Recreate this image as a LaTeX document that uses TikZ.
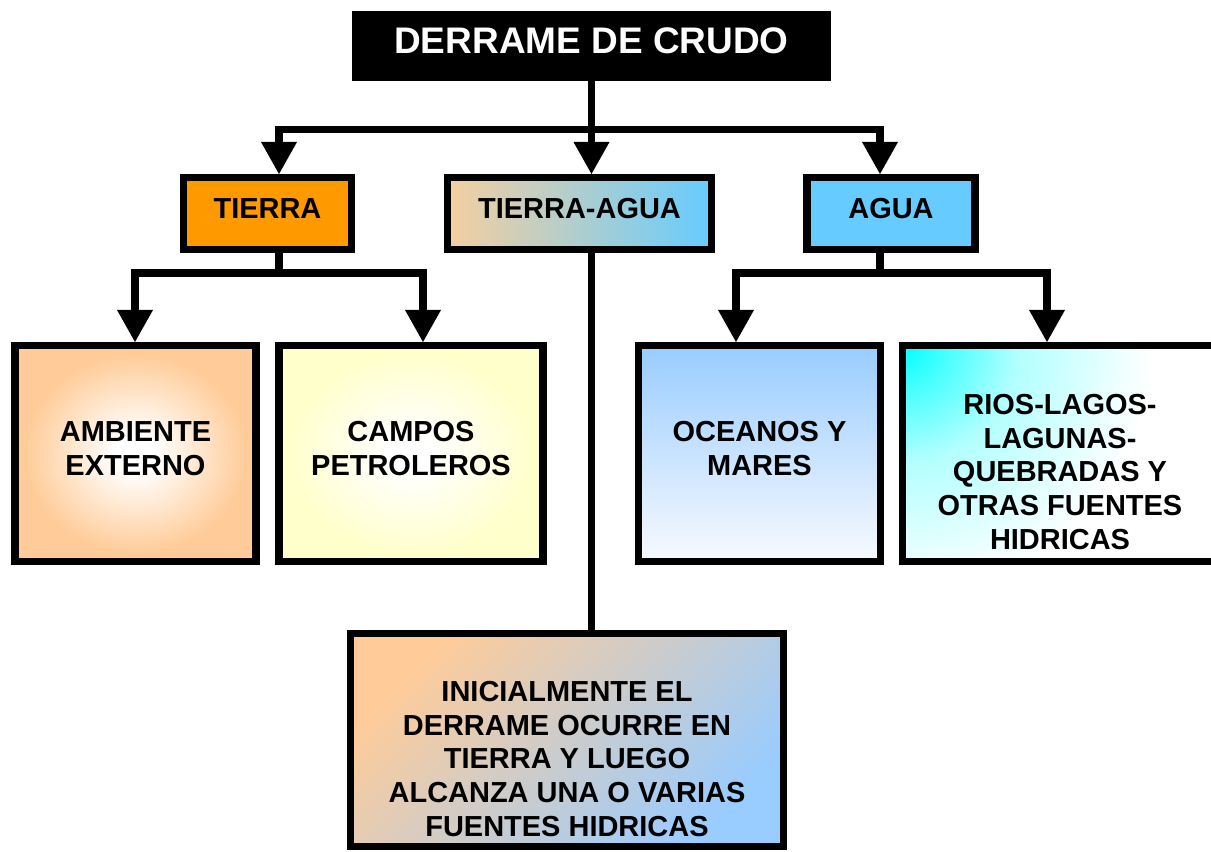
\documentclass[tikz,border=0pt]{standalone}
\usepackage{fontspec}
\setmainfont{Liberation Sans}
\usetikzlibrary{arrows.meta}

\definecolor{naranja}{HTML}{FF9900}
\definecolor{celeste}{HTML}{66CCFF}
\definecolor{durazno}{HTML}{FFCC99}
\definecolor{arena}{HTML}{F5CFA0}
\definecolor{crema}{HTML}{FFFFCC}
\definecolor{azulito}{HTML}{99CCFF}
\definecolor{espuma}{HTML}{F7FAFF}
\definecolor{cian}{HTML}{00FFFF}

\pgfdeclareradialshading{brillodurazno}{\pgfpointorigin}{color(0bp)=(white); color(4bp)=(white); color(23bp)=(durazno); color(50bp)=(durazno)}
\pgfdeclareradialshading{brillocrema}{\pgfpointorigin}{color(0bp)=(white); color(4bp)=(white); color(23bp)=(crema); color(50bp)=(crema)}
\pgfdeclareradialshading{chorro}{\pgfpointorigin}{color(0bp)=(cian); color(2bp)=(cian!75!white); color(6bp)=(cian!30!white); color(13bp)=(white); color(50bp)=(white)}

\begin{document}
\begin{tikzpicture}
 [x=0.025cm, y=-0.025cm,
  titulo node/.style={fill=black, text=white, inner sep=0pt, minimum width=11.975cm, minimum height=1.75cm, text depth=0.25cm, font=\bfseries\fontsize{26.3pt}{30pt}\selectfont},
  rama node/.style={draw, line width=0.1875cm, inner sep=0pt, minimum height=1.7875cm, text depth=0.25cm, font=\bfseries\fontsize{20.6pt}{24pt}\selectfont},
  hoja node/.style={draw, line width=0.1875cm, inner sep=0pt, minimum height=5.3875cm},
  texto/.style={align=center, inner sep=0pt, font=\bfseries\fontsize{20.6pt}{23.9pt}\selectfont},
  linea/.style={line width=0.1875cm, line join=miter},
  flecha/.style={linea, -{Triangle[width=0.9cm, length=0.8cm, line width=0pt]}}]

\useasboundingbox (0,0) rectangle (1211,851);

\node[titulo node] (titulo) at (591.5,46) {DERRAME DE CRUDO};

\node[rama node, fill=naranja, minimum width=4.1875cm] (tierra) at (267.5,213.5) {TIERRA};
\node[rama node, left color=arena, right color=celeste, minimum width=6.5875cm] (tierraagua) at (579.5,213.5) {TIERRA-AGUA};
\node[rama node, fill=celeste, minimum width=4.2cm] (agua) at (891,213.5) {AGUA};

\node[hoja node, shade, shading=brillodurazno, minimum width=6.0125cm,
  label={[texto, yshift=0.125cm]center:AMBIENTE\\EXTERNO}] (ambiente) at (135.5,453.5) {};
\node[hoja node, shade, shading=brillocrema, minimum width=6.6cm,
  label={[texto, yshift=0.125cm]center:CAMPOS\\PETROLEROS}] (campos) at (411,453.5) {};
\node[hoja node, top color=azulito, bottom color=espuma, minimum width=6.0375cm,
  label={[texto, yshift=0.125cm]center:OCEANOS Y\\MARES}] (oceanos) at (759.5,453.5) {};
\node[hoja node, fill=white, minimum width=7.8625cm,
  path picture={\shade[shading=chorro] ([shift={(-480,-480)}]path picture bounding box.north west) rectangle ([shift={(480,480)}]path picture bounding box.north west);},
  label={[texto, yshift=-0.4625cm]center:RIOS-LAGOS-\\LAGUNAS-\\QUEBRADAS Y\\OTRAS FUENTES\\HIDRICAS}] (rios) at (1060,453.5) {};

\node[hoja node, top color=durazno, bottom color=azulito, shading angle=45, minimum width=10.8125cm, minimum height=5.3125cm,
  label={[texto, yshift=-0.475cm]center:INICIALMENTE EL\\DERRAME OCURRE EN\\TIERRA Y LUEGO\\ALCANZA UNA O VARIAS\\FUENTES HIDRICAS}] (inicial) at (567,740) {};

% puntos de quiebre de los conectores
\coordinate (rT) at (279,129.5);
\coordinate (rA) at (880,129.5);
\coordinate (rAE) at (135,273);
\coordinate (rCP) at (423,273);
\coordinate (rOM) at (736,273);
\coordinate (rRL) at (1047,273);

\draw[linea] (titulo.south) -- (titulo.south |- rT);
\draw[flecha] (titulo.south |- rT) -- (rT) -- (rT |- tierra.north);
\draw[flecha] (titulo.south |- rT) -- (rA) -- (rA |- agua.north);
\draw[flecha] (titulo.south |- rT) -- (titulo.south |- tierraagua.north);

\draw[linea] (rT |- tierra.south) -- (rT |- rAE);
\draw[flecha] (rT |- rAE) -- (rAE) -- (rAE |- ambiente.north);
\draw[flecha] (rT |- rAE) -- (rCP) -- (rCP |- campos.north);

\draw[linea] (rA |- agua.south) -- (rA |- rOM);
\draw[flecha] (rA |- rOM) -- (rOM) -- (rOM |- oceanos.north);
\draw[flecha] (rA |- rOM) -- (rRL) -- (rRL |- rios.north);

\draw[linea] (titulo.south |- tierraagua.south) -- (titulo.south |- inicial.north);

\end{tikzpicture}
\end{document}
